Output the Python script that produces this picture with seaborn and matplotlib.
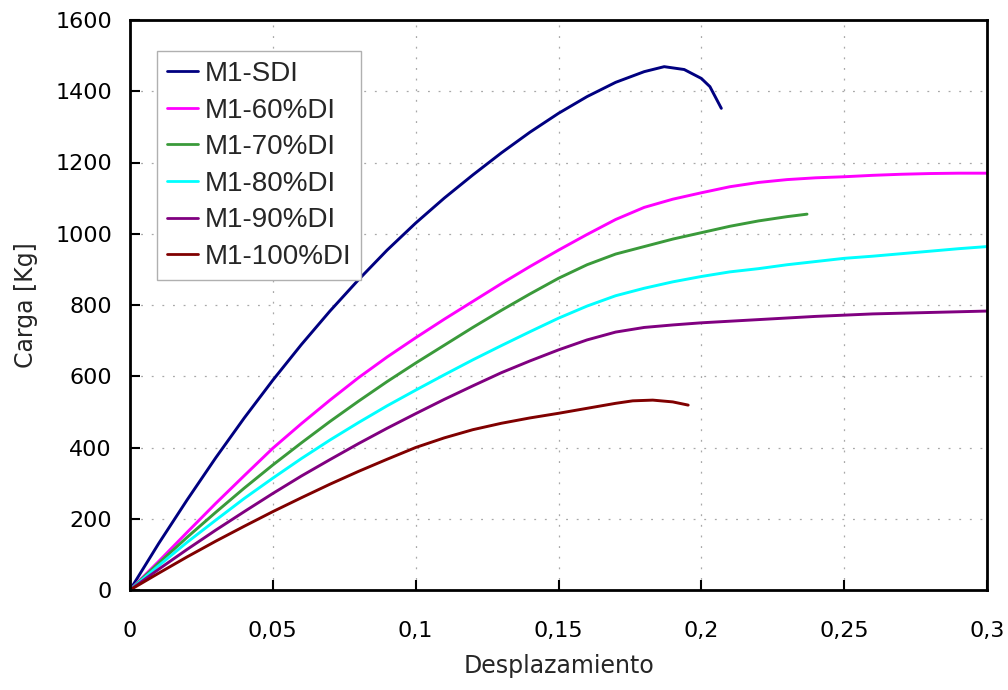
import numpy as np
import pandas as pd
import matplotlib
matplotlib.use("Agg")
import matplotlib.pyplot as plt
import seaborn as sns
from matplotlib.ticker import FuncFormatter

# Load–displacement curves for each specimen
series_names = ["M1-SDI", "M1-60%DI", "M1-70%DI", "M1-80%DI", "M1-90%DI", "M1-100%DI"]
series_colors = ["#000080", "#FF00FF", "#3A9A3A", "#00FFFF", "#800080", "#800000"]

sdi_x = [0, 0.01, 0.02, 0.03, 0.04, 0.05, 0.06, 0.07, 0.08, 0.09, 0.1, 0.11, 0.12,
         0.13, 0.14, 0.15, 0.16, 0.17, 0.18, 0.187, 0.194, 0.2, 0.203, 0.207]
sdi_y = [0, 130, 253, 371, 483, 589, 689, 783, 871, 954, 1030, 1100, 1165,
         1227, 1285, 1338, 1385, 1425, 1455, 1469, 1461, 1436, 1413, 1352]

di60_x = [0, 0.01, 0.02, 0.03, 0.04, 0.05, 0.06, 0.07, 0.08, 0.09, 0.1, 0.11, 0.12,
          0.13, 0.14, 0.15, 0.16, 0.17, 0.18, 0.19, 0.2, 0.21, 0.22, 0.23, 0.24,
          0.25, 0.26, 0.27, 0.28, 0.29, 0.3]
di60_y = [0, 80, 162, 243, 321, 398, 467, 533, 596, 654, 708, 760, 810,
          860, 908, 954, 998, 1040, 1074, 1097, 1115, 1132, 1144, 1152, 1157,
          1160, 1164, 1167, 1169, 1170, 1170]

di70_x = [0, 0.01, 0.02, 0.03, 0.04, 0.05, 0.06, 0.07, 0.08, 0.09, 0.1, 0.11, 0.12,
          0.13, 0.14, 0.15, 0.16, 0.17, 0.18, 0.19, 0.2, 0.21, 0.22, 0.23, 0.237]
di70_y = [0, 75, 148, 218, 286, 351, 413, 473, 530, 585, 637, 687, 737,
          785, 831, 875, 913, 943, 964, 985, 1003, 1021, 1036, 1048, 1055]

di80_x = [0, 0.01, 0.02, 0.03, 0.04, 0.05, 0.06, 0.07, 0.08, 0.09, 0.1, 0.11, 0.12,
          0.13, 0.14, 0.15, 0.16, 0.17, 0.18, 0.19, 0.2, 0.21, 0.22, 0.23, 0.24,
          0.25, 0.26, 0.27, 0.28, 0.29, 0.3]
di80_y = [0, 68, 134, 196, 257, 314, 369, 421, 470, 517, 561, 604, 646,
          686, 725, 763, 797, 826, 847, 865, 880, 893, 902, 913, 922,
          931, 937, 944, 951, 958, 964]

di90_x = [0, 0.01, 0.02, 0.03, 0.04, 0.05, 0.06, 0.07, 0.08, 0.09, 0.1, 0.11, 0.12,
          0.13, 0.14, 0.15, 0.16, 0.17, 0.18, 0.19, 0.2, 0.22, 0.24, 0.26, 0.28, 0.3]
di90_y = [0, 58, 114, 168, 220, 271, 320, 366, 411, 454, 495, 535, 573,
          610, 643, 674, 702, 724, 737, 744, 750, 759, 768, 775, 779, 783]

di100_x = [0, 0.01, 0.02, 0.03, 0.04, 0.05, 0.06, 0.07, 0.08, 0.09, 0.1, 0.11, 0.12,
           0.13, 0.14, 0.15, 0.16, 0.17, 0.176, 0.183, 0.19, 0.1954]
di100_y = [0, 47, 93, 137, 179, 220, 259, 297, 333, 367, 400, 427, 450,
           468, 483, 496, 510, 524, 531, 533, 528, 519]

x_ticks = [0, 0.05, 0.1, 0.15, 0.2, 0.25, 0.3]
y_ticks = [0, 200, 400, 600, 800, 1000, 1200, 1400, 1600]

all_x = [sdi_x, di60_x, di70_x, di80_x, di90_x, di100_x]
all_y = [sdi_y, di60_y, di70_y, di80_y, di90_y, di100_y]

frames = []
for name, xs, ys in zip(series_names, all_x, all_y):
    frames.append(pd.DataFrame({"Desplazamiento": xs, "Carga": ys, "Serie": name}))
data = pd.concat(frames, ignore_index=True)

sns.set_style("white")
plt.rcParams["font.family"] = ["DejaVu Sans"]

fig = plt.figure(figsize=(10.08, 6.90), dpi=100)
ax = fig.add_axes([130 / 1008, 100 / 690, 857 / 1008, 570 / 690])

sns.lineplot(data=data, x="Desplazamiento", y="Carga", hue="Serie",
             hue_order=series_names, palette=dict(zip(series_names, series_colors)),
             sort=False, estimator=None, units="Serie", linewidth=2.1, ax=ax)
for line in ax.get_lines():
    line.set_solid_joinstyle("round")

ax.set_xlim(0, 0.3)
ax.set_ylim(0, 1600)
ax.set_xticks(x_ticks)
ax.set_yticks(y_ticks)
ax.xaxis.set_major_formatter(FuncFormatter(lambda v, _: ("%g" % round(v, 4)).replace(".", ",")))

ax.grid(True, color="#a8a8a8", linestyle=(0, (1.5, 7)), linewidth=0.9)
ax.set_axisbelow(True)

for sp in ax.spines.values():
    sp.set_visible(True)
    sp.set_color("black")
    sp.set_linewidth(2.0)

ax.tick_params(axis="both", direction="in", length=7, width=1.5, colors="black",
               labelsize=16, bottom=True, left=True, top=False, right=False)
ax.tick_params(axis="x", pad=22)
ax.tick_params(axis="y", pad=13)

ax.set_xlabel("Desplazamiento", fontsize=17, labelpad=10)
ax.set_ylabel("Carga [Kg]", fontsize=17, labelpad=12)

handles, labels = ax.get_legend_handles_labels()
leg = ax.legend(handles, labels, loc="upper left", bbox_to_anchor=(0.0315, 0.9456),
                borderaxespad=0, frameon=True, fancybox=False, edgecolor="#b0b0b0",
                framealpha=1, prop={"family": "Liberation Sans", "size": 20},
                handlelength=1.1, handletextpad=0.25, labelspacing=0.38,
                borderpad=0.36)
leg.get_frame().set_linewidth(1.0)
for line in leg.get_lines():
    line.set_linewidth(2.0)

fig.savefig("out.png", dpi=100, facecolor="white")
